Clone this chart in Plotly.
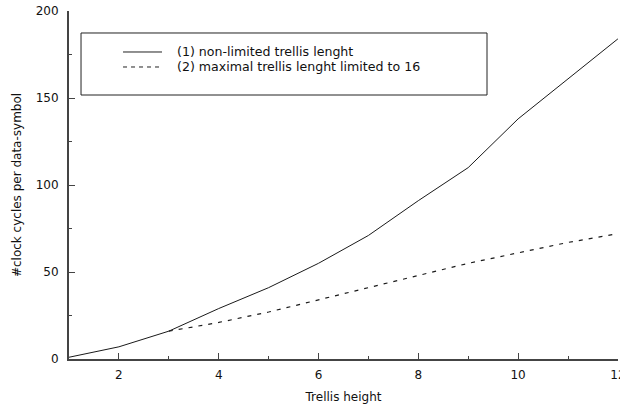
import plotly.graph_objects as go

# Trellis height (x) and clock cycles per data-symbol for both decoder variants
trellis_height = [1, 2, 3, 4, 5, 6, 7, 8, 9, 10, 11, 12]
cycles_unlimited = [1, 7, 16, 29, 41, 55, 71, 91, 110, 138, 161, 184]

trellis_height_limited = [3, 4, 5, 6, 7, 8, 9, 10, 11, 12]
cycles_limited = [16, 21, 27, 34, 41, 48, 55, 61, 67, 72]

legend_labels = [
    "(1) non-limited trellis lenght",
    "(2) maximal trellis lenght limited to 16",
]

FONT = "DejaVu Sans"
AXIS_COLOR = "#444444"

fig = go.Figure()
fig.add_trace(go.Scatter(
    x=trellis_height, y=cycles_unlimited, mode="lines",
    line=dict(color="#1a1a1a", width=1), name=legend_labels[0],
))
fig.add_trace(go.Scatter(
    x=trellis_height_limited, y=cycles_limited, mode="lines",
    line=dict(color="#1a1a1a", width=1.2, dash="4px,6px"), name=legend_labels[1],
))

# Hand-drawn legend box in paper coordinates
box = dict(x0=0.0219, x1=0.7614, y0=0.7586, y1=0.9368)
fig.add_shape(type="rect", xref="paper", yref="paper", **box,
              line=dict(color="#222222", width=1), fillcolor="white", layer="above")
rows = [0.8822, 0.8391]
dashes = ["solid", "4px,4px"]
for label, yy, dash in zip(legend_labels, rows, dashes):
    fig.add_shape(type="line", xref="paper", yref="paper",
                  x0=0.0984, x1=0.1694, y0=yy, y1=yy,
                  line=dict(color="#222222", width=1, dash=dash), layer="above")
    fig.add_annotation(x=0.1930, y=yy, xref="paper", yref="paper",
                       text=label, showarrow=False, xanchor="left", yanchor="middle",
                       font=dict(family=FONT, size=12.6, color="#111111"))

axis_common = dict(
    showline=True, linecolor=AXIS_COLOR, linewidth=2,
    ticks="inside", ticklen=6, tickwidth=1, tickcolor=AXIS_COLOR,
    showgrid=False, zeroline=False, mirror=False,
    ticklabeloverflow="allow", automargin=False,
    tickfont=dict(family=FONT, size=12, color="#111111"),
)

fig.update_layout(
    width=620, height=409,
    margin=dict(l=69, r=2, t=11, b=50),
    paper_bgcolor="white", plot_bgcolor="white",
    showlegend=False,
    font=dict(family=FONT, size=12, color="#111111"),
    xaxis=dict(
        range=[1, 12.002], tick0=0, dtick=2,
        minor=dict(dtick=1, ticks="inside", ticklen=3, tickcolor=AXIS_COLOR),
        title=dict(text="Trellis height", standoff=11,
                   font=dict(family=FONT, size=12, color="#111111")),
        ticklabelstandoff=4,
        **axis_common,
    ),
    yaxis=dict(
        range=[0, 200.02], tick0=0, dtick=50,
        minor=dict(dtick=25, ticks="inside", ticklen=3, tickcolor=AXIS_COLOR),
        title=dict(text="#clock cycles per data-symbol", standoff=11,
                   font=dict(family=FONT, size=12, color="#111111")),
        ticklabelstandoff=6,
        **axis_common,
    ),
)

fig.write_html("out.html")
